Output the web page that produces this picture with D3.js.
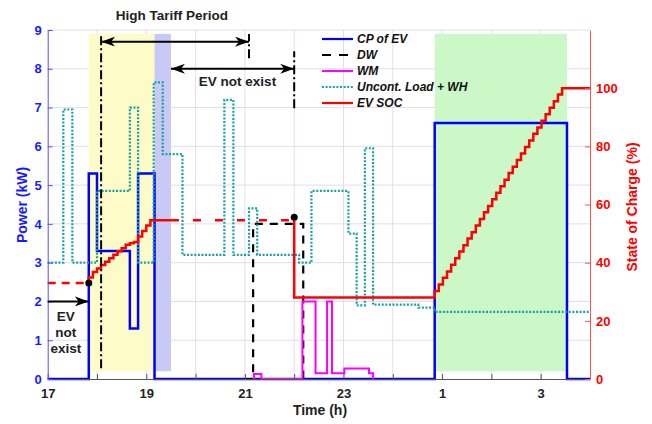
<!DOCTYPE html>
<html>
<head>
<meta charset="utf-8">
<script src="https://cdn.jsdelivr.net/npm/d3@7/dist/d3.min.js"></script>
<style>
body { margin: 0; background: #fff; }
text { font-family: "Liberation Sans", Arial, sans-serif; font-weight: bold; }
</style>
</head>
<body>
<div id="chart"></div>
<script>
// all times are minutes after 17:00
var cpTimes = [0, 50, 60, 100, 110, 130, 471, 632, 660];
var cpValues = [0, 5.3, 3.3, 1.3, 5.3, 0, 6.6, 0, 0];

var dwTimes = [240, 250, 311];
var dwValues = [0, 4.0, 0];

var wmTimes = [250, 251, 260, 310, 326, 340, 346, 361, 391, 396];
var wmValues = [0, 0.13, 0, 2.0, 0.15, 2.0, 0.15, 0.27, 0.15, 0];

var loadTimes = [0, 19, 30, 60, 100, 110, 129, 140, 164, 215, 226, 245, 255, 306, 321, 366, 376, 386, 396, 451, 471, 660];
var loadValues = [3.0, 6.95, 3.0, 4.85, 7.0, 3.0, 7.65, 5.8, 3.2, 7.2, 3.2, 4.4, 3.2, 3.0, 4.85, 3.75, 1.9, 5.95, 1.92, 1.84, 1.73, 1.73];

// EV SOC (%), solid where EV is home, dashed where it is away
var socAwayTimes1 = [0, 50];
var socAwayValues1 = [33, 33];
var socTimes1 = [50, 50, 55, 60, 65, 70, 75, 80, 85, 90, 95, 100, 105, 110, 115, 120, 125, 150];
var socValues1 = [33, 34.9, 36.8, 38.0, 39.2, 40.3, 41.5, 42.7, 43.9, 45.0, 46.2, 46.7, 47.1, 49.0, 50.9, 52.8, 54.6, 54.6];
var socAwayTimes2 = [150, 300];
var socAwayValues2 = [54.6, 54.6];
var socTimes2 = [300, 300, 471, 476, 481, 486, 491, 496, 501, 506, 511, 516, 521, 526, 531, 536, 541, 546, 551, 556, 561, 566, 571, 576, 581, 586, 591, 596, 601, 606, 611, 616, 621, 626, 660];
var socValues2 = [54.6, 28, 30.3, 32.5, 34.8, 37.0, 39.3, 41.5, 43.8, 46.0, 48.3, 50.5, 52.8, 55.0, 57.3, 59.5, 61.8, 64.0, 66.3, 68.5, 70.8, 73.0, 75.3, 77.5, 79.8, 82.0, 84.3, 86.5, 88.8, 91.0, 93.3, 95.5, 97.8, 100, 100];
var dotTimes = [50, 300];
var dotSoc = [33, 55.6];

// shaded periods
var shadeStart = [50, 130, 471];
var shadeEnd = [130, 150, 632];
var shadeColors = ["#fdfcc9", "#c9c9f6", "#ccf7c7"];

var legendNames = ["CP of EV", "DW", "WM", "Uncont. Load + WH", "EV SOC"];

var W = 652, H = 424;
var margin = { left: 47.7, right: 62, top: 30, bottom: 45 };

var svg = d3.select("#chart").append("svg")
  .attr("width", W)
  .attr("height", H);

var x = d3.scaleLinear().domain([0, 660]).range([margin.left, W - margin.right]);
var y = d3.scaleLinear().domain([0, 9]).range([H - margin.bottom, margin.top]);
var yR = d3.scaleLinear().domain([0, 120]).range([H - margin.bottom, margin.top]);

var defs = svg.append("defs");
defs.append("marker")
  .attr("id", "head")
  .attr("viewBox", "0 -5 14 10")
  .attr("refX", 14).attr("refY", 0)
  .attr("markerWidth", 14).attr("markerHeight", 10)
  .attr("markerUnits", "userSpaceOnUse")
  .attr("orient", "auto-start-reverse")
  .append("path")
  .attr("d", "M0,-5L14,0L0,5L4,0Z")
  .attr("fill", "#000");

//grid
var grid = svg.append("g");
grid.selectAll(".hg")
  .data(d3.range(1, 10))
  .enter().append("line")
  .attr("x1", x(0)).attr("x2", x(660))
  .attr("y1", function (d) { return y(d); }).attr("y2", function (d) { return y(d); })
  .style("stroke", "#dedeee").style("stroke-width", "1px");
grid.selectAll(".vg")
  .data(d3.range(60, 660, 60))
  .enter().append("line")
  .attr("y1", y(0)).attr("y2", y(9))
  .attr("x1", function (d) { return x(d); }).attr("x2", function (d) { return x(d); })
  .style("stroke", "#dedeee").style("stroke-width", "1px");

//shading
svg.selectAll(".shade")
  .data(shadeStart)
  .enter().append("rect")
  .attr("x", function (d) { return x(d); })
  .attr("width", function (d, i) { return x(shadeEnd[i]) - x(d); })
  .attr("y", y(8.9))
  .attr("height", y(0.2) - y(8.9))
  .attr("fill", function (d, i) { return shadeColors[i]; });

function stepPath(times, values, scale) {
  var pts = times.map(function (t, i) { return [x(t), scale(values[i])]; });
  return d3.line().curve(d3.curveStepAfter)(pts);
}

var styles = [
  { color: "#0000ff", width: 2.5, dash: null },
  { color: "#000000", width: 2.2, dash: "8,7" },
  { color: "#ff00ff", width: 2, dash: null },
  { color: "#17a2a2", width: 2.2, dash: "2,1.6" },
  { color: "#ff0000", width: 2.5, dash: null }
];

function drawLine(times, values, scale, st, dash) {
  svg.append("path")
    .attr("d", stepPath(times, values, scale))
    .attr("fill", "none")
    .style("stroke", st.color)
    .style("stroke-width", st.width + "px")
    .style("stroke-dasharray", dash === undefined ? st.dash : dash);
}

drawLine(cpTimes, cpValues, y, styles[0]);
drawLine(dwTimes, dwValues, y, styles[1]);
drawLine(wmTimes, wmValues, y, styles[2]);
drawLine(loadTimes, loadValues, y, styles[3]);
drawLine(socAwayTimes1, socAwayValues1, yR, styles[4], "8,6");
drawLine(socTimes1, socValues1, yR, styles[4]);
drawLine(socAwayTimes2, socAwayValues2, yR, styles[4], "8,14");
drawLine(socTimes2, socValues2, yR, styles[4]);

svg.selectAll(".dot")
  .data(dotTimes)
  .enter().append("circle")
  .attr("cx", function (d) { return x(d); })
  .attr("cy", function (d, i) { return yR(dotSoc[i]); })
  .attr("r", 3.5)
  .attr("fill", "#000");

//axes
var gx = svg.append("g")
  .attr("transform", "translate(0," + y(0) + ")")
  .call(d3.axisBottom(x).tickValues(d3.range(0, 661, 60)).tickSize(-5).tickSizeOuter(0).tickPadding(10)
    .tickFormat(function (d) { return d % 120 === 0 ? String((17 + d / 60) % 24) : ""; }));
gx.select(".domain").style("stroke", "#555");
gx.selectAll(".tick line").style("stroke", "#555");
gx.selectAll("text").style("font-size", "13px").style("fill", "#222");

var gy = svg.append("g")
  .attr("transform", "translate(" + x(0) + ",0)")
  .call(d3.axisLeft(y).ticks(9).tickSize(-5).tickSizeOuter(0).tickPadding(6));
gy.select(".domain").style("stroke", "#5050ff");
gy.selectAll(".tick line").style("stroke", "#5050ff");
gy.selectAll("text").style("font-size", "13px").style("fill", "#1a1aff");

var gyR = svg.append("g")
  .attr("transform", "translate(" + x(660) + ",0)")
  .call(d3.axisRight(yR).tickValues([0, 20, 40, 60, 80, 100]).tickSize(-5).tickSizeOuter(0).tickPadding(6));
gyR.select(".domain").style("stroke", "#ff5050");
gyR.selectAll(".tick line").style("stroke", "#ff5050");
gyR.selectAll("text").style("font-size", "13px").style("fill", "#ff0000");

svg.append("text")
  .attr("x", 320).attr("y", 415)
  .attr("text-anchor", "middle")
  .style("font-size", "14px").style("fill", "#222")
  .text("Time (h)");
svg.append("text")
  .attr("transform", "translate(26.5,205) rotate(-90)")
  .attr("text-anchor", "middle")
  .style("font-size", "14px").style("fill", "#1a1aff")
  .text("Power (kW)");
svg.append("text")
  .attr("transform", "translate(637,207) rotate(-90)")
  .attr("text-anchor", "middle")
  .style("font-size", "14px").style("fill", "#ff0000")
  .text("State of Charge (%)");

//annotations
var dashDotX = [65, 245, 300];
var dashDotLow = [0.28, 8.27, 6.98];
var dashDotHigh = [8.9, 8.9, 8.45];
svg.selectAll(".dd")
  .data(dashDotX)
  .enter().append("line")
  .attr("x1", function (d) { return x(d); }).attr("x2", function (d) { return x(d); })
  .attr("y1", function (d, i) { return y(dashDotLow[i]); })
  .attr("y2", function (d, i) { return y(dashDotHigh[i]); })
  .style("stroke", "#000").style("stroke-width", "2px")
  .style("stroke-dasharray", "9,3,2,3");

var arrowFrom = [65, 150, 0];
var arrowTo = [245, 300, 50];
var arrowLevel = [8.7, 8.0, 2.0];
var arrowBoth = [true, true, false];
svg.selectAll(".arr")
  .data(arrowFrom)
  .enter().append("line")
  .attr("x1", function (d) { return x(d); })
  .attr("x2", function (d, i) { return x(arrowTo[i]); })
  .attr("y1", function (d, i) { return y(arrowLevel[i]); })
  .attr("y2", function (d, i) { return y(arrowLevel[i]); })
  .style("stroke", "#000").style("stroke-width", "2px")
  .attr("marker-end", "url(#head)")
  .attr("marker-start", function (d, i) { return arrowBoth[i] ? "url(#head)" : null; });

svg.append("text")
  .attr("x", 172).attr("y", 20)
  .attr("text-anchor", "middle")
  .style("font-size", "13.5px").style("fill", "#222")
  .text("High Tariff Period");
svg.append("text")
  .attr("x", x(231)).attr("y", 86)
  .attr("text-anchor", "middle")
  .style("font-size", "13.5px").style("fill", "#222")
  .text("EV not exist");
svg.selectAll(".evn")
  .data(["EV", "not", "exist"])
  .enter().append("text")
  .attr("x", x(22)).attr("y", function (d, i) { return 321 + i * 16; })
  .attr("text-anchor", "middle")
  .style("font-size", "13.5px").style("fill", "#222")
  .text(function (d) { return d; });

//legend
var lg = svg.append("g").attr("transform", "translate(322,39)");
var item = lg.selectAll(".li")
  .data(legendNames)
  .enter().append("g")
  .attr("transform", function (d, i) { return "translate(0," + (i * 16) + ")"; });
item.append("line")
  .attr("x1", 0).attr("x2", 31).attr("y1", 0).attr("y2", 0)
  .style("stroke", function (d, i) { return styles[i].color; })
  .style("stroke-width", function (d, i) { return Math.min(styles[i].width, 2.2) + "px"; })
  .style("stroke-dasharray", function (d, i) { return i === 1 ? "9,8" : styles[i].dash; });
item.append("text")
  .attr("x", 35).attr("y", 4.3)
  .style("font-size", "12px").style("font-style", "italic").style("fill", "#111")
  .text(function (d) { return d; });
</script>
</body>
</html>
